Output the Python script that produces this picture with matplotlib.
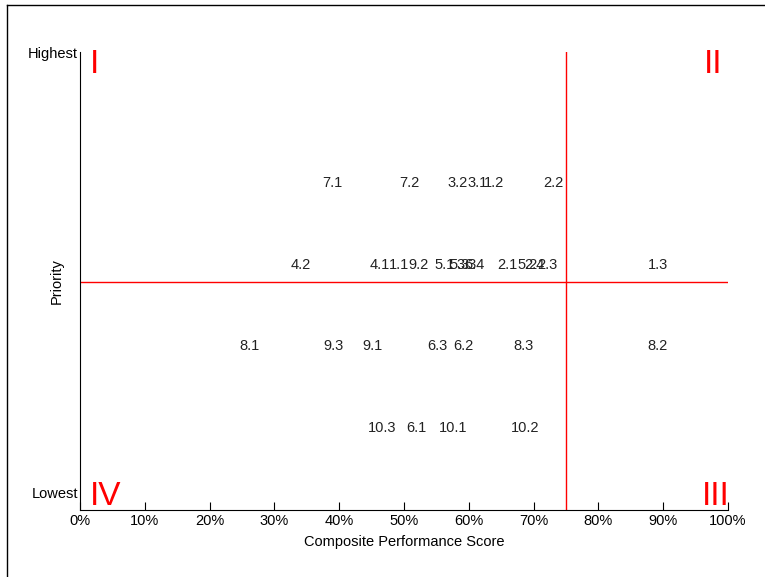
import matplotlib.pyplot as plt
from matplotlib.lines import Line2D
from matplotlib.ticker import PercentFormatter

plt.rcParams['font.family'] = ['Liberation Sans', 'DejaVu Sans']

# item labels, composite score (%) and priority row (4 = highest shown)
labels = ["7.1", "7.2", "3.2", "3.1", "1.2", "2.2",
          "4.2", "4.1", "1.1", "9.2", "5.1", "5.3", "3.3", "6.4",
          "2.1", "5.2", "2.4", "2.3", "1.3",
          "8.1", "9.3", "9.1", "6.3", "6.2", "8.3", "8.2",
          "10.3", "6.1", "10.1", "10.2"]
scores = [39.0, 50.9, 58.2, 61.3, 63.9, 73.1,
          34.0, 46.3, 49.2, 52.2, 56.3, 58.5, 59.6, 60.8,
          66.0, 69.0, 70.1, 72.1, 89.2,
          26.1, 39.1, 45.2, 55.1, 59.1, 68.4, 89.1,
          46.6, 51.9, 57.6, 68.7]
priority = [4, 4, 4, 4, 4, 4,
            3, 3, 3, 3, 3, 3, 3, 3,
            3, 3, 3, 3, 3,
            2, 2, 2, 2, 2, 2, 2,
            1, 1, 1, 1]

score_cut = 75
priority_cut = 2.79
quadrants = ["I", "II", "III", "IV"]

fig = plt.figure(figsize=(7.65, 5.77), dpi=100)
ax = fig.add_axes([80 / 765, 67 / 577, 648 / 765, 458 / 577])

for lab, s, p in zip(labels, scores, priority):
    ax.text(s, p, lab, ha='center', va='center', fontsize=10.5, color='#222222')

ax.axvline(score_cut, color='red', lw=1)
ax.axhline(priority_cut, color='red', lw=1)

ax.set_xlim(0, 100)
ax.set_ylim(0, 5.6)
ax.xaxis.set_major_formatter(PercentFormatter(decimals=0))
ax.set_xticks(range(0, 101, 10))
ax.tick_params(axis='x', direction='in', length=6, labelsize=10.5, pad=3)
ax.set_yticks([])
for side in ['top', 'right']:
    ax.spines[side].set_visible(False)

ax.set_xlabel("Composite Performance Score", fontsize=10.5, labelpad=5)
ax.set_ylabel("Priority", fontsize=10.5, labelpad=12)

ax.text(-0.3, 5.57, "Highest", ha='right', va='center', fontsize=10.5)
ax.text(-0.3, 0.2, "Lowest", ha='right', va='center', fontsize=10.5)

qstyle = dict(color='red', fontsize=24, fontstretch='condensed')
ax.text(1.6, 5.45, quadrants[0], ha='left', va='center', **qstyle)
ax.text(96.2, 5.45, quadrants[1], ha='left', va='center', **qstyle)
ax.text(96.0, 0.17, quadrants[2], ha='left', va='center', **qstyle)
ax.text(1.6, 0.17, quadrants[3], ha='left', va='center', **qstyle)

# frame around the figure
fig.add_artist(Line2D([7 / 765, 7 / 765], [0, 1 - 5 / 577], color='black', lw=1))
fig.add_artist(Line2D([7 / 765, 1], [1 - 5 / 577, 1 - 5 / 577], color='black', lw=1))

fig.savefig("out.png", dpi=100)
